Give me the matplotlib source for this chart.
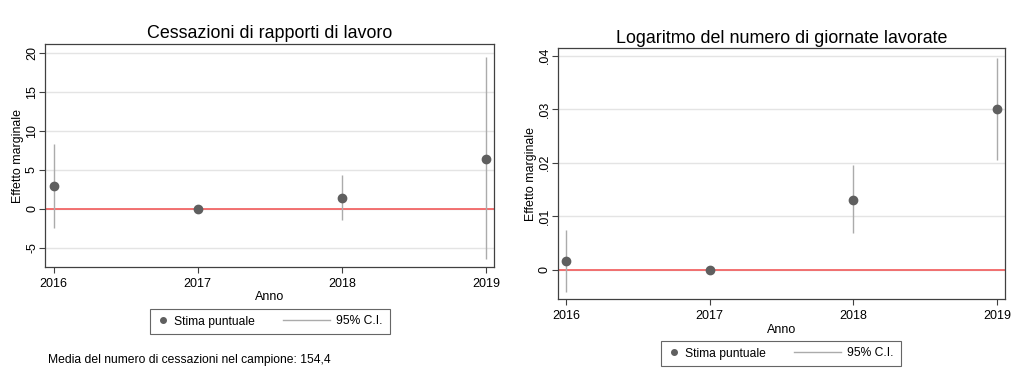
import matplotlib
matplotlib.use('Agg')
import matplotlib.pyplot as plt
from matplotlib.lines import Line2D
from matplotlib.legend_handler import HandlerBase
from matplotlib.ticker import FuncFormatter

plt.rcParams['font.family'] = ['Liberation Sans', 'DejaVu Sans']
plt.rcParams['axes.unicode_minus'] = False

# Data
anni = [2016, 2017, 2018, 2019]

cess_stima = [2.9, 0.0, 1.4, 6.4]
cess_low = [-2.5, 0.0, -1.5, -6.5]
cess_high = [8.3, 0.0, 4.4, 19.5]
cess_ticks = [-5, 0, 5, 10, 15, 20]

giorn_stima = [0.0017, 0.0, 0.0130, 0.0301]
giorn_low = [-0.0041, 0.0, 0.0068, 0.0206]
giorn_high = [0.0074, 0.0, 0.0195, 0.0395]
giorn_ticks = [0, 0.01, 0.02, 0.03, 0.04]

nota = 'Media del numero di cessazioni nel campione: 154,4'

POINT = '#5f5f5f'
CI = '#ababab'
RED = '#f25a5a'
GRID = '#e4e4e4'
FRAME = '#404040'


class LongLineHandler(HandlerBase):
    # draws the C.I. line longer than the handle box, stretching to the left
    def __init__(self, extra=26, **kw):
        super().__init__(**kw)
        self.extra = extra

    def create_artists(self, legend, orig_handle, xdescent, ydescent,
                       width, height, fontsize, trans):
        y = height / 2 - ydescent
        line = Line2D([-xdescent - self.extra, width - xdescent], [y, y],
                      color=orig_handle.get_color(), lw=orig_handle.get_linewidth())
        line.set_transform(trans)
        return [line]


def stata_fmt(v, pos):
    if v == 0:
        return '0'
    return ('%g' % v).replace('0.', '.')


def draw_panel(ax, stima, low, high, ticks, ylim, title, fmt=None):
    ax.set_xlim(2015.94, 2019.055)
    ax.set_ylim(*ylim)
    for t in ticks:
        ax.axhline(t, color=GRID, lw=1.0, zorder=0)
    ax.axhline(0, color=RED, lw=1.2, zorder=1)
    ax.vlines(anni, low, high, color=CI, lw=1.0, zorder=2)
    ax.plot(anni, stima, 'o', color=POINT, ms=6, zorder=3)
    ax.set_xticks(anni)
    ax.set_yticks(ticks)
    if fmt is not None:
        ax.yaxis.set_major_formatter(FuncFormatter(fmt))
    for lab in ax.get_yticklabels():
        lab.set_rotation(90)
        lab.set_va('center')
    ax.tick_params(axis='both', labelsize=9, color=FRAME, length=4.5, width=0.8)
    ax.tick_params(axis='y', pad=0.5)
    for s in ax.spines.values():
        s.set_color(FRAME)
        s.set_linewidth(0.9)
    ax.set_title(title, fontsize=12.9, pad=4)
    ax.set_xlabel('Anno', fontsize=9, labelpad=1)
    ax.set_ylabel('Effetto marginale', fontsize=8.9, labelpad=1.5)


def add_legend(ax, anchor):
    handles = [
        Line2D([], [], marker='o', color=POINT, ls='none', ms=4),
        Line2D([], [], color=CI, lw=1.0),
    ]
    leg = ax.legend(handles, ['Stima puntuale', '95% C.I.'], ncol=2,
                    loc='center', bbox_to_anchor=anchor,
                    bbox_transform=ax.figure.transFigure,
                    handler_map={handles[1]: LongLineHandler(extra=26)},
                    fontsize=8.75, frameon=True, fancybox=False, numpoints=1,
                    handlelength=0.9, handletextpad=0.5, columnspacing=5.3,
                    borderpad=0.55)
    leg.get_frame().set_edgecolor(FRAME)
    leg.get_frame().set_linewidth(0.8)


def main():
    fig = plt.figure(figsize=(10.24, 3.83), dpi=100)
    ax1 = fig.add_axes([0.0439, 0.3029, 0.4385, 0.5821])
    ax2 = fig.add_axes([0.5446, 0.2185, 0.4366, 0.6554])

    draw_panel(ax1, cess_stima, cess_low, cess_high, cess_ticks, (-7.5, 21.2),
               'Cessazioni di rapporti di lavoro')
    draw_panel(ax2, giorn_stima, giorn_low, giorn_high, giorn_ticks,
               (-0.00554, 0.0414), 'Logaritmo del numero di giornate lavorate',
               fmt=stata_fmt)

    add_legend(ax1, (270 / 1024, 1 - 321.5 / 383))
    add_legend(ax2, (781 / 1024, 1 - 353.5 / 383))

    fig.text(48 / 1024, 1 - 360 / 383, nota, fontsize=8.7, va='center')

    fig.savefig('out.png', dpi=100, facecolor='white')


if __name__ == '__main__':
    main()
